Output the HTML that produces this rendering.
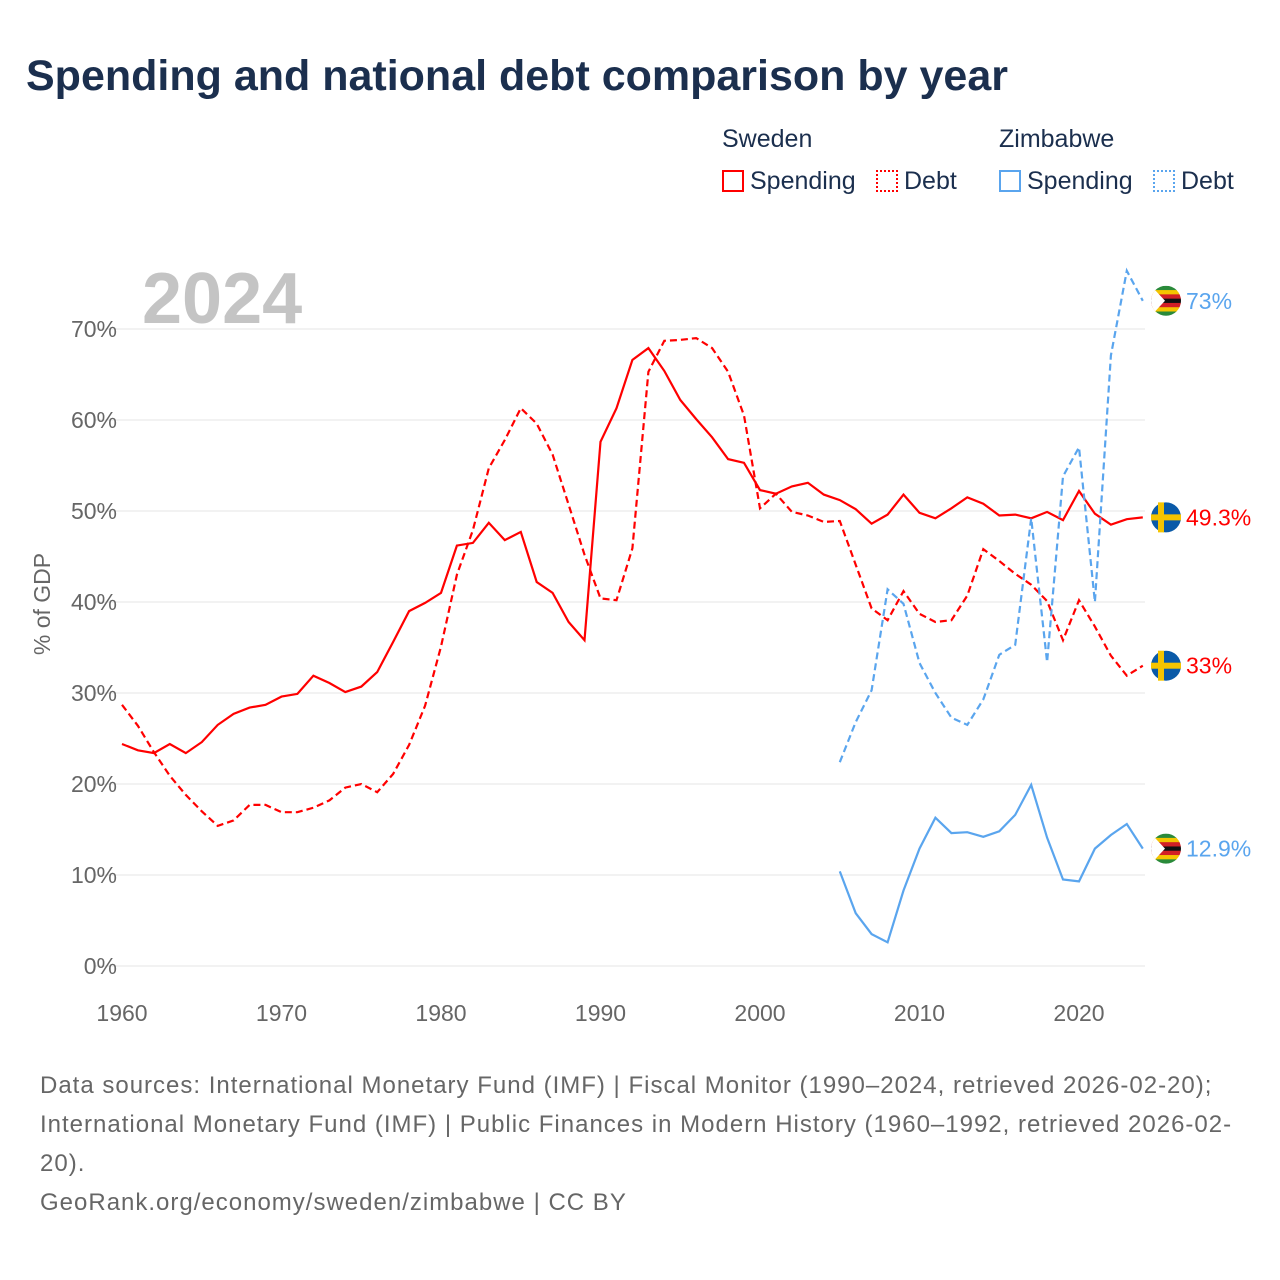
<!DOCTYPE html>
<html><head><meta charset="utf-8">
<style>
body{margin:0;background:#fff;font-family:"Liberation Sans",sans-serif;}
#wrap{position:relative;width:1280px;height:1280px;overflow:hidden;}
h1{position:absolute;left:26px;top:52px;margin:0;font-size:43px;font-weight:bold;color:#1b2f4e;letter-spacing:0px;}
.lg{position:absolute;font-size:25px;color:#1b2f4e;}
.sw{display:inline-block;width:22px;height:22px;vertical-align:-3px;margin-right:6px;box-sizing:border-box;}
.src{position:absolute;left:40px;top:1066px;width:1200px;font-size:24px;line-height:39px;color:#666;letter-spacing:1px;}
</style></head><body>
<div id="wrap">
<h1>Spending and national debt comparison by year</h1>
<div class="lg" style="left:722px;top:125px">Sweden</div>
<div class="lg" style="left:999px;top:125px">Zimbabwe</div>
<div class="lg" style="left:722px;top:167px"><span class="sw" style="border:2px solid #f00"></span>Spending</div>
<div class="lg" style="left:876px;top:167px"><span class="sw" style="border:2px dotted #f00"></span>Debt</div>
<div class="lg" style="left:999px;top:167px"><span class="sw" style="border:2px solid #5aa5ee"></span>Spending</div>
<div class="lg" style="left:1153px;top:167px"><span class="sw" style="border:2px dotted #5aa5ee"></span>Debt</div>
<svg id="chart" width="1280" height="1280" style="position:absolute;left:0;top:0"></svg>
<div class="src">Data sources: International Monetary Fund (IMF) | Fiscal Monitor (1990–2024, retrieved 2026-02-20); International Monetary Fund (IMF) | Public Finances in Modern History (1960–1992, retrieved 2026&#8209;02-<wbr>20).<br>GeoRank.org/economy/sweden/zimbabwe | CC BY</div>
</div>
<script>
const swYears0 = 1960;
const swSpending = [24.4,23.7,23.4,24.4,23.4,24.6,26.5,27.7,28.4,28.7,29.6,29.9,31.9,31.1,30.1,30.7,32.3,35.6,39.0,39.9,41.0,46.2,46.5,48.7,46.8,47.7,42.2,41.0,37.8,35.8,57.6,61.3,66.6,67.9,65.4,62.2,60.1,58.1,55.7,55.3,52.3,51.9,52.7,53.1,51.8,51.2,50.2,48.6,49.6,51.8,49.8,49.2,50.3,51.5,50.8,49.5,49.6,49.2,49.9,49.0,52.2,49.7,48.5,49.1,49.3];
const swDebt = [28.7,26.4,23.5,20.9,18.8,17.0,15.4,16.0,17.7,17.7,16.9,16.9,17.4,18.2,19.6,20.0,19.1,21.1,24.3,28.6,35.1,43.0,47.9,54.7,57.8,61.3,59.6,56.2,50.7,45.2,40.4,40.2,45.9,65.3,68.7,68.8,69.0,67.9,65.3,60.5,50.3,51.9,49.9,49.5,48.8,48.9,44.1,39.3,38.0,41.2,38.7,37.8,38.0,40.7,45.8,44.5,43.1,41.9,40.1,35.8,40.2,37.3,34.1,31.9,33.0];
const zwYears0 = 2005;
const zwSpending = [10.4,5.8,3.5,2.6,8.3,12.9,16.3,14.6,14.7,14.2,14.8,16.6,19.9,14.1,9.5,9.3,12.9,14.4,15.6,12.9];
const zwDebt = [22.4,26.8,30.3,41.4,39.8,33.3,30.0,27.3,26.5,29.3,34.2,35.3,49.2,33.4,53.8,57.0,40.0,67.1,76.4,73.1];
const yTicks = [0,10,20,30,40,50,60,70];
const xTicks = [1960,1970,1980,1990,2000,2010,2020];

const svg = document.getElementById('chart');
const NS = 'http://www.w3.org/2000/svg';
const X = yr => 122 + (yr-1960)*15.95;
const Y = v => 966 - v*9.1;
function mk(t, attrs){const e=document.createElementNS(NS,t);for(const k in attrs)e.setAttribute(k,attrs[k]);svg.appendChild(e);return e;}

yTicks.forEach(t=>{
  const g = mk('line',{x1:95,x2:1145,y1:Y(t),y2:Y(t),stroke:'#e6e6e6','stroke-width':1});
  
  
  const tx = mk('text',{x:117,y:Y(t)+8,'text-anchor':'end','font-size':23,fill:'#666','font-family':'Liberation Sans'});
  tx.textContent = t+'%';
  
  
});
xTicks.forEach(t=>{
  const tx = mk('text',{x:X(t),y:1021,'text-anchor':'middle','font-size':23,fill:'#666','font-family':'Liberation Sans'});
  tx.textContent = t;
  
  
});
const yt = mk('text',{x:50,y:604,'text-anchor':'middle','font-size':23,fill:'#666','font-family':'Liberation Sans',transform:'rotate(-90 50 604)'});
yt.textContent='% of GDP';


const yr = mk('text',{x:142,y:323,'font-size':72,'font-weight':'bold',fill:'#c4c4c4','font-family':'Liberation Sans'});
yr.textContent='2024';



function line(arr, y0, color, dash, name){
  const d = arr.map((v,i)=>(i?'L':'M')+X(y0+i).toFixed(1)+' '+Y(v).toFixed(1)).join(' ');
  const p = mk('path',{d:d,fill:'none',stroke:color,'stroke-width':2.2});
  if(dash) p.setAttribute('stroke-dasharray','7 4');
  
  
}
line(swSpending,swYears0,'#f00',false,'sweden-spending-line');
line(swDebt,swYears0,'#f00',true,'sweden-debt-line');
line(zwSpending,zwYears0,'#5aa5ee',false,'zimbabwe-spending-line');
line(zwDebt,zwYears0,'#5aa5ee',true,'zimbabwe-debt-line');

function flagSweden(cy){
  const c=mk('circle',{cx:1166,cy:cy,r:15,fill:'#0a5aa8'});
  
  
  mk('rect',{x:1151,y:cy-3,width:30,height:6,fill:'#f5c400'});
  mk('rect',{x:1158,y:cy-15,width:6,height:30,fill:'#f5c400'});
}
function flagZim(cy){
  const cols=['#2a8a3a','#f5c400','#d21f26','#111','#d21f26','#f5c400','#2a8a3a'];
  const cp = mk('clipPath',{id:'zc'+Math.round(cy)});
  const cc = document.createElementNS(NS,'circle');cc.setAttribute('cx',1166);cc.setAttribute('cy',cy);cc.setAttribute('r',15);cp.appendChild(cc);
  const g=mk('g',{'clip-path':'url(#zc'+Math.round(cy)+')'});
  
  
  cols.forEach((c,i)=>{const r=document.createElementNS(NS,'rect');r.setAttribute('x',1151);r.setAttribute('y',cy-15+i*30/7);r.setAttribute('width',30);r.setAttribute('height',30/7+0.5);r.setAttribute('fill',c);g.appendChild(r);});
  const t=document.createElementNS(NS,'polygon');t.setAttribute('points',`1151,${cy-15} 1165,${cy} 1151,${cy+15}`);t.setAttribute('fill','#fff');g.appendChild(t);
}
function endLabel(v,color,txt,name){
  const t=mk('text',{x:1186,y:Y(v)+8,'font-size':23,fill:color,'font-family':'Liberation Sans'});
  t.textContent=txt;
  
  
}
flagZim(Y(zwDebt[zwDebt.length-1]));
flagSweden(Y(swSpending[swSpending.length-1]));
flagSweden(Y(swDebt[swDebt.length-1]));
flagZim(Y(zwSpending[zwSpending.length-1]));
endLabel(zwDebt[zwDebt.length-1],'#5aa5ee','73%','zimbabwe-debt-end-label');
endLabel(swSpending[swSpending.length-1],'#f00','49.3%','sweden-spending-end-label');
endLabel(swDebt[swDebt.length-1],'#f00','33%','sweden-debt-end-label');
endLabel(zwSpending[zwSpending.length-1],'#5aa5ee','12.9%','zimbabwe-spending-end-label');
</script>
</body></html>
